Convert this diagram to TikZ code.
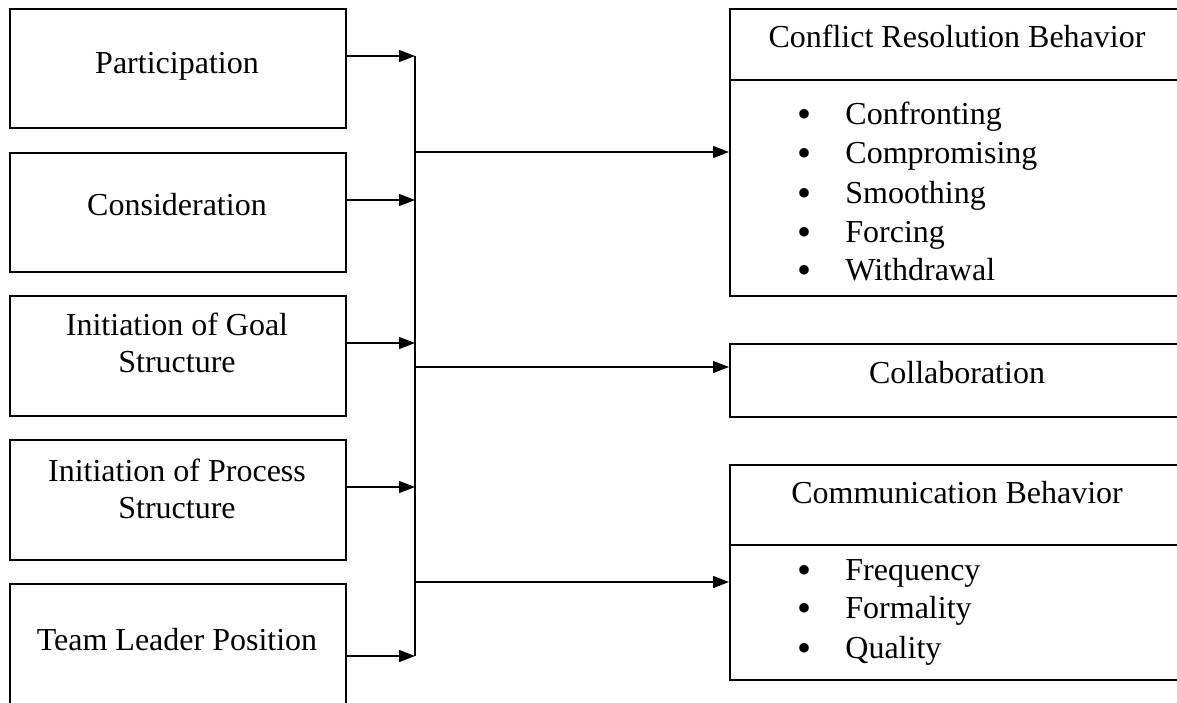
\documentclass[tikz,border=0pt]{standalone}
\usepackage{fontspec}
\setmainfont{Liberation Serif}
\usetikzlibrary{arrows.meta}
\begin{document}
\begin{tikzpicture}[x=0.5pt,y=-0.5pt,
  box/.style={draw,line width=0.75pt,rectangle,inner sep=0pt,anchor=north west},
  txt/.style={font=\fontsize{16}{18.5}\selectfont,anchor=base,inner sep=0pt,align=center},
  itm/.style={font=\fontsize{16}{18.5}\selectfont,anchor=base west,inner sep=0pt},
  bul/.style={font=\fontsize{20}{20}\selectfont,anchor=base,inner sep=0pt,text height=8pt,text depth=0pt},
  arr/.style={line width=0.6pt,-{Triangle[length=8pt,width=6pt]}},
  ln/.style={line width=0.6pt}]
\useasboundingbox (0,0) rectangle (1177,702);
\clip (0,0) rectangle (1177,702);
% left boxes
\node[box,minimum width=168pt,minimum height=59.5pt] (b1) at (9,8) {};
\node[box,minimum width=168pt,minimum height=59.5pt] (b2) at (9,152) {};
\node[box,minimum width=168pt,minimum height=60pt] (b3) at (9,295) {};
\node[box,minimum width=168pt,minimum height=60pt] (b4) at (9,439) {};
\node[box,minimum width=168pt,minimum height=75pt] (b5) at (9,583) {};
\node[txt] (t1) at (177,73.5) {Participation};
\node[txt] (t2) at (177,215.5) {Consideration};
\node[txt] (t3a) at (177,335) {Initiation of Goal};
\node[txt] (t3b) at (177,372) {Structure};
\node[txt] (t4a) at (177,481) {Initiation of Process};
\node[txt] (t4b) at (177,518) {Structure};
\node[txt] (t5) at (177,650.5) {Team Leader Position};
% right boxes
\node[box,minimum width=228pt,minimum height=143.5pt] (r1) at (729,8) {};
\node[box,minimum width=228pt,minimum height=36.5pt] (r2) at (729,343) {};
\node[box,minimum width=228pt,minimum height=107.5pt] (r3) at (729,464) {};
\coordinate (d1) at (729,80);
\coordinate (d3) at (729,545);
\draw[line width=0.75pt] (d1) -- ++(460,0);
\draw[line width=0.75pt] (d3) -- ++(460,0);
\node[txt] (rt1) at (957,47.5) {Conflict Resolution Behavior};
\node[txt] (rt2) at (957,383.5) {Collaboration};
\node[txt] (rt3) at (957,503.5) {Communication Behavior};
\foreach \y/\s [count=\i] in {124/Confronting,163/Compromising,203/Smoothing,242/Forcing,280/Withdrawal}{
  \node[bul] (cb\i) at (804,\y+3) {•};
  \node[itm] (ci\i) at (845,\y) {\s};
}
\foreach \y/\s [count=\i] in {580.5/Frequency,618.5/Formality,658.5/Quality}{
  \node[bul] (mb\i) at (804,\y+3) {•};
  \node[itm] (mi\i) at (845,\y) {\s};
}
% bus
\coordinate (j1) at (415,56);
\coordinate (j2) at (415,200);
\coordinate (j3) at (415,343);
\coordinate (j4) at (415,487);
\coordinate (j5) at (415,656);
\coordinate (o1) at (415,152);
\coordinate (o2) at (415,367);
\coordinate (o3) at (415,582);
\draw[ln] (j1) -- (j5);
\draw[arr] (b1.east |- j1) -- (j1);
\draw[arr] (b2.east |- j2) -- (j2);
\draw[arr] (b3.east |- j3) -- (j3);
\draw[arr] (b4.east |- j4) -- (j4);
\draw[arr] (b5.east |- j5) -- (j5);
\draw[arr] (o1) -- (r1.west |- o1);
\draw[arr] (o2) -- (r2.west |- o2);
\draw[arr] (o3) -- (r3.west |- o3);
\end{tikzpicture}
\end{document}
